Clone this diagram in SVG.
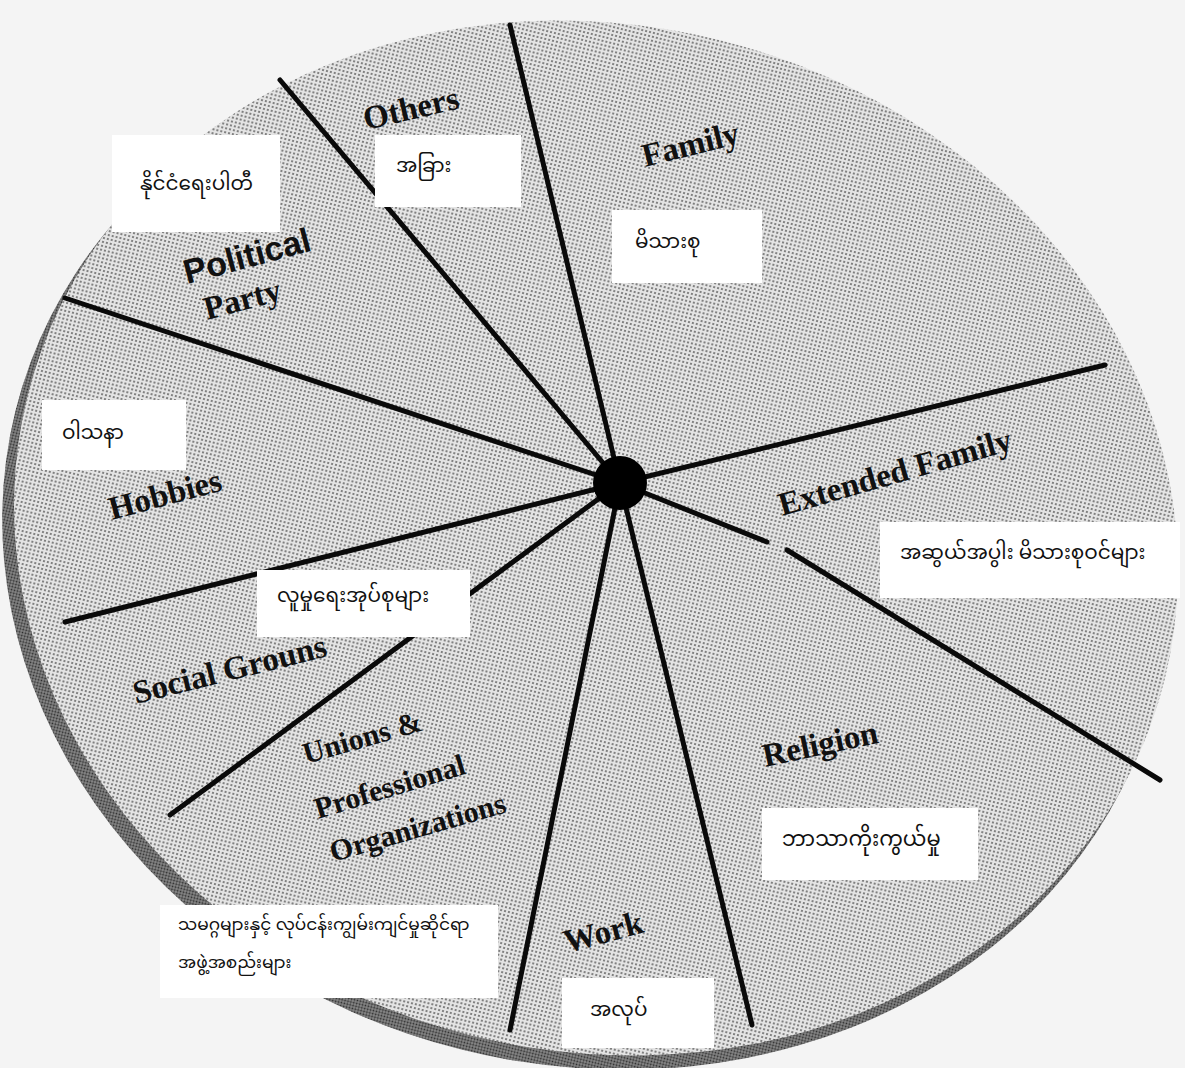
<svg xmlns="http://www.w3.org/2000/svg" width="1185" height="1068" viewBox="0 0 1185 1068">
<defs>
<pattern id="dots" width="4" height="4" patternUnits="userSpaceOnUse">
<rect width="4" height="4" fill="#e4e4e4"/>
<circle cx="2" cy="2" r="1.05" fill="#666"/>
</pattern>
<pattern id="dark" width="3" height="3" patternUnits="userSpaceOnUse">
<rect width="3" height="3" fill="#8a8a8a"/>
<circle cx="1.5" cy="1.5" r="1" fill="#2a2a2a"/>
</pattern>
<style>
.div{stroke:#0a0a0a;stroke-width:5;stroke-linecap:round;fill:none}
.en{font-family:"Liberation Serif","Times New Roman",serif;font-weight:bold;font-size:33px;fill:#111}
.un{font-size:30px}
.sans{font-family:"Liberation Sans",Arial,sans-serif;font-weight:bold;font-size:34px;fill:#111}
.box{fill:#ffffff}
.my{font-family:"Noto Sans Myanmar","Padauk","Myanmar Text","Noto Sans",sans-serif;font-size:20px;fill:#111}
.myl{font-size:21px}
.mys{font-family:"Noto Sans Myanmar","Padauk","Myanmar Text","Noto Sans",sans-serif;font-size:17px;fill:#111}
</style>
</defs>
<rect width="1185" height="1068" fill="#f4f4f4"/>
<g id="disc">
<ellipse cx="586" cy="553" rx="588" ry="512" transform="rotate(14 586 553)" fill="url(#dark)"/>
<ellipse cx="596" cy="538" rx="586" ry="513" transform="rotate(14 596 538)" fill="url(#dots)"/>
</g>
<g id="connectors">
<line class="div" x1="620" y1="483" x2="510" y2="25"/>
<line class="div" x1="620" y1="483" x2="280" y2="80"/>
<line class="div" x1="620" y1="483" x2="65" y2="298"/>
<line class="div" x1="620" y1="483" x2="65" y2="622"/>
<line class="div" x1="620" y1="483" x2="170" y2="815"/>
<line class="div" x1="620" y1="483" x2="510" y2="1030"/>
<line class="div" x1="620" y1="483" x2="752" y2="1025"/>
<line class="div" x1="620" y1="483" x2="767" y2="542"/>
<line class="div" x1="787" y1="550" x2="1160" y2="780"/>
<line class="div" x1="620" y1="483" x2="1105" y2="365"/>
</g>
<g id="hub"><circle cx="620" cy="483" r="27" fill="#000"/></g>
<g id="others"><text class="en" x="366" y="130" transform="rotate(-13 366 130)">Others</text></g>
<g id="family"><text class="en" x="645" y="167" transform="rotate(-14 645 167)">Family</text></g>
<g id="political"><text class="sans" x="187" y="284" transform="rotate(-15 187 284)">Political</text>
<text class="en" x="207" y="320" transform="rotate(-15 207 320)">Party</text></g>
<g id="hobbies"><text class="en" x="112" y="520" transform="rotate(-15 112 520)">Hobbies</text></g>
<g id="extended"><text class="en" x="782" y="516" transform="rotate(-16 782 516)">Extended Family</text></g>
<g id="social"><text class="en" x="136" y="704" transform="rotate(-14 136 704)">Social Grouns</text></g>
<g id="unions"><text class="en un" x="306" y="764" transform="rotate(-16 306 764)">Unions &amp;</text>
<text class="en un" x="318" y="819" transform="rotate(-17 318 819)">Professional</text>
<text class="en un" x="333" y="862" transform="rotate(-16 333 862)">Organizations</text></g>
<g id="religion"><text class="en" x="765" y="767" transform="rotate(-12 765 767)">Religion</text></g>
<g id="work"><text class="en" x="567" y="953" transform="rotate(-15 567 953)">Work</text></g>
<g id="box-political"><rect class="box" x="112" y="135" width="168" height="97"/><text class="my" x="140" y="190">နိုင်ငံရေးပါတီ</text></g>
<g id="box-others"><rect class="box" x="375" y="135" width="146" height="72"/><text class="my" x="396" y="172">အခြား</text></g>
<g id="box-family"><rect class="box" x="612" y="210" width="150" height="73"/><text class="my" x="635" y="248">မိသားစု</text></g>
<g id="box-hobbies"><rect class="box" x="42" y="400" width="144" height="70"/><text class="my" x="62" y="439">ဝါသနာ</text></g>
<g id="box-social"><rect class="box" x="257" y="570" width="213" height="67"/><text class="my" x="277" y="602">လူမှုရေးအုပ်စုများ</text></g>
<g id="box-extended"><rect class="box" x="880" y="522" width="300" height="76"/><text class="my" x="900" y="559">အဆွယ်အပွါး မိသားစုဝင်များ</text></g>
<g id="box-religion"><rect class="box" x="762" y="808" width="216" height="72"/><text class="my myl" x="782" y="846">ဘာသာကိုးကွယ်မှု</text></g>
<g id="box-unions"><rect class="box" x="160" y="905" width="338" height="93"/><text class="mys" x="178" y="930">သမဂ္ဂများနှင့် လုပ်ငန်းကျွမ်းကျင်မှုဆိုင်ရာ</text><text class="mys" x="178" y="968">အဖွဲ့အစည်းများ</text></g>
<g id="box-work"><rect class="box" x="562" y="978" width="152" height="70"/><text class="my" x="590" y="1016">အလုပ်</text></g>
</svg>
